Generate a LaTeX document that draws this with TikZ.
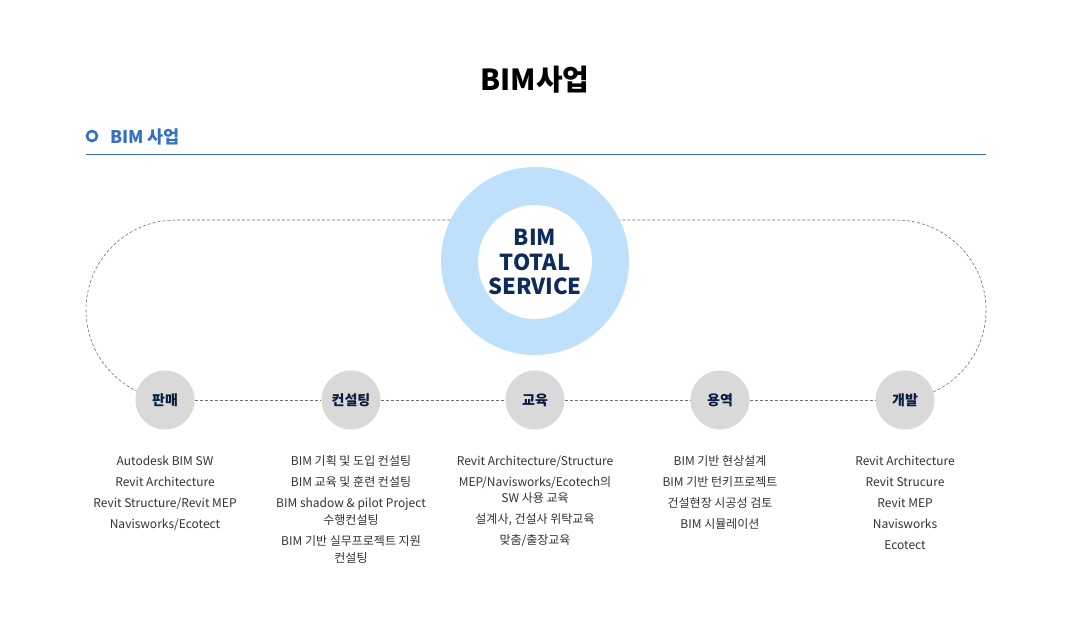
\documentclass[tikz,border=0pt]{standalone}
\usepackage{fontspec}
\setmainfont{Noto Sans CJK KR}
\usetikzlibrary{backgrounds}
\definecolor{secblue}{HTML}{3470C6}
\definecolor{ringblue}{HTML}{BEE0FB}
\definecolor{navy}{HTML}{0F2B5B}
\definecolor{nodegray}{HTML}{D9D9D9}
\definecolor{bodytxt}{HTML}{333333}
\definecolor{dashgray}{HTML}{707070}
\begin{document}
\begin{tikzpicture}[x=1pt,y=-1pt,
  catnode/.style={circle,fill=nodegray,minimum size=59pt,inner sep=0pt,font=\fontsize{14}{16}\selectfont\bfseries,text=navy!70!black},
  listtxt/.style={align=center,font=\fontsize{12}{21}\selectfont,text=bodytxt,anchor=north},
  loopline/.style={draw=dashgray,line width=0.6pt,dash pattern=on 3pt off 2pt}]
\useasboundingbox (0,0) rectangle (1078,630);
% title
\node (title) at (535,80) {\fontsize{29}{32}\selectfont\bfseries BIM사업};
% section
\node[circle,draw=secblue,line width=2.6pt,minimum size=10pt,inner sep=0pt] (bullet) at (92,136) {};
\node[anchor=west,text=secblue,inner sep=0pt] (sec) at (110,137) {\fontsize{17.5}{19}\selectfont\bfseries BIM 사업};
\coordinate (rl) at (86,154.5);
\coordinate (rr) at (986,154.5);
\draw[secblue,line width=1.2pt] (rl) -- (rr);
% center
\node[circle,fill=ringblue,minimum size=188pt,inner sep=0pt] (ring) at (535,261) {};
\node[circle,fill=white,minimum size=112pt,inner sep=0pt,align=center,text=navy,font=\fontsize{22}{24.5}\selectfont\bfseries] (core) at (535,262) {BIM\\TOTAL\\SERVICE};
% category nodes
\node[catnode] (pan) at (165,400) {판매};
\node[catnode] (con) at (351,400) {컨설팅};
\node[catnode] (edu) at (535,400) {교육};
\node[catnode] (yong) at (720,400) {용역};
\node[catnode] (dev) at (905,400) {개발};
% connectors
\coordinate (tl) at (176,220);
\coordinate (tr) at (896,220);
\begin{pgfonlayer}{background}
\fill[white] (0,0) rectangle (1078,630);
\draw[loopline] (pan.center) -- (176,400) arc (90:270:90) -- (tr) arc (-90:90:90) -- (dev.center);
\draw[loopline] (pan) -- (con);
\draw[loopline] (con) -- (edu);
\draw[loopline] (edu) -- (yong);
\draw[loopline] (yong) -- (dev);
\end{pgfonlayer}
% lists
\node[listtxt] (l1) at (165,452) {Autodesk BIM SW\\Revit Architecture\\Revit Structure/Revit MEP\\Navisworks/Ecotect};
\node[listtxt] (l2) at (351,452) {BIM 기획 및 도입 컨설팅\\BIM 교육 및 훈련 컨설팅\\BIM shadow \& pilot Project\\[-4pt]수행컨설팅\\BIM 기반 실무프로젝트 지원\\[-4pt]컨설팅};
\node[listtxt] (l3) at (535,452) {Revit Architecture/Structure\\MEP/Navisworks/Ecotech의\\[-4.5pt]SW 사용 교육\\설계사, 건설사 위탁교육\\맞춤/출장교육};
\node[listtxt] (l4) at (720,452) {BIM 기반 현상설계\\BIM 기반 턴키프로젝트\\건설현장 시공성 검토\\BIM 시뮬레이션};
\node[listtxt] (l5) at (905,452) {Revit Architecture\\Revit Strucure\\Revit MEP\\Navisworks\\Ecotect};
\end{tikzpicture}
\end{document}
